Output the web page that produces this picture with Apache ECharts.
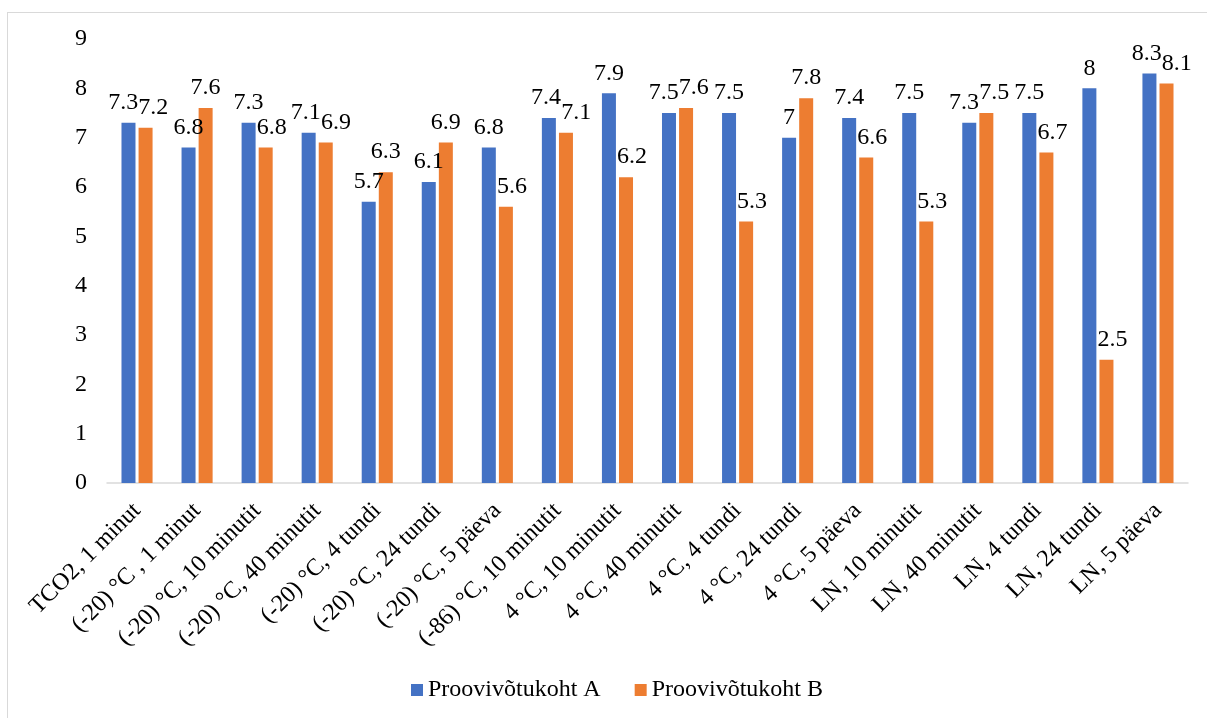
<!DOCTYPE html>
<html>
<head>
<meta charset="utf-8">
<title>Proovivõtukoht A / B</title>
<script src="https://cdn.jsdelivr.net/npm/echarts@6/dist/echarts.min.js"></script>
<style>
  html, body { margin: 0; padding: 0; background: #fff; overflow: hidden; }
  #frame { position: absolute; left: 7px; top: 12px; width: 1220px; height: 720px; border: 1px solid #d9d9d9; }
  #chart { position: absolute; left: 0; top: 0; width: 1207px; height: 718px; }
</style>
</head>
<body>
<div id="frame"></div>
<div id="chart"></div>
<script>
// kategooriad
const categories = [
  'TCO2, 1 minut',
  '(-20) °C , 1 minut',
  '(-20) °C, 10 minutit',
  '(-20) °C, 40 minutit',
  '(-20) °C, 4 tundi',
  '(-20) °C, 24 tundi',
  '(-20) °C, 5 päeva',
  '(-86) °C, 10 minutit',
  '4 °C, 10 minutit',
  '4 °C, 40 minutit',
  '4 °C, 4 tundi',
  '4 °C, 24 tundi',
  '4 °C, 5 päeva',
  'LN, 10 minutit',
  'LN, 40 minutit',
  'LN, 4 tundi',
  'LN, 24 tundi',
  'LN, 5 päeva'
]

// väärtused
const siteA = [7.3, 6.8, 7.3, 7.1, 5.7, 6.1, 6.8, 7.4, 7.9, 7.5, 7.5, 7, 7.4, 7.5, 7.3, 7.5, 8, 8.3]
const siteB = [7.2, 7.6, 6.8, 6.9, 6.3, 6.9, 5.6, 7.1, 6.2, 7.6, 5.3, 7.8, 6.6, 5.3, 7.5, 6.7, 2.5, 8.1]

const seriesNames = ['Proovivõtukoht A', 'Proovivõtukoht B']
const yTicks = { min: 0, max: 9, interval: 1 }

const font = '"Liberation Serif", "Times New Roman", serif'
const FS = 24
const BAR_W = 14
const BAR_GAP = 3
const LBL_DIST = 8

// umbkaudne sildi laius (Times: numbrid 0.5em, punkt 0.25em)
const textW = v => String(v).split('').reduce((s, c) => s + (c === '.' ? 0.25 : 0.5), 0) * FS

// Exceli moodi siltide nihutamine, et A ja B sildid ei kattuks
function labelShift (i, unit) {
  const wA = textW(siteA[i])
  const wB = textW(siteB[i])
  const aTop = -siteA[i] * unit
  const bTop = -siteB[i] * unit
  const cxB = BAR_W + BAR_GAP
  let dxA = 0
  let dxB = 0
  // A tulp lõikab B silti -> B silt paremale
  const aBarRight = BAR_W / 2
  const bLabelLeft = cxB - wB / 2
  if (aTop < bTop - LBL_DIST && aBarRight > bLabelLeft) {
    dxB = aBarRight + 1 - bLabelLeft
  }
  // sildid kattuvad -> lükka lahku
  const ov = wA / 2 - (cxB + dxB - wB / 2)
  if (ov > 0 && Math.abs(aTop - bTop) < FS * 0.7) {
    dxA -= ov * 0.4
    dxB += ov * 0.6
  }
  return [dxA, dxB]
}

const chart = echarts.init(document.getElementById('chart'))

function makeLayout (seriesIdx) {
  return function (params) {
    const i = params.dataIndex
    const val = seriesIdx === 0 ? siteA[i] : siteB[i]
    const unit = params.rect.height / val
    return { dx: labelShift(i, unit)[seriesIdx] }
  }
}

const labelStyle = {
  show: true,
  position: 'top',
  distance: LBL_DIST,
  color: '#000',
  fontFamily: font,
  fontSize: FS
}

chart.setOption({
  animation: false,
  textStyle: { fontFamily: font },
  grid: { left: 107, right: 19, top: 39, bottom: 235, containLabel: false },
  legend: {
    data: seriesNames,
    bottom: 11,
    left: 406,
    itemWidth: 12,
    itemHeight: 12,
    itemGap: 34,
    icon: 'rect',
    textStyle: { fontFamily: font, fontSize: FS, color: '#000' }
  },
  xAxis: {
    type: 'category',
    data: categories,
    axisLine: { lineStyle: { color: '#d9d9d9', width: 1.5 } },
    axisTick: { show: false },
    axisLabel: {
      interval: 0,
      rotate: 45,
      margin: 24,
      color: '#000',
      fontFamily: font,
      fontSize: FS
    }
  },
  yAxis: {
    type: 'value',
    min: yTicks.min,
    max: yTicks.max,
    interval: yTicks.interval,
    splitLine: { show: false },
    axisLine: { show: false },
    axisTick: { show: false },
    axisLabel: { color: '#000', fontFamily: font, fontSize: FS, margin: 20 }
  },
  series: [
    {
      name: seriesNames[0],
      type: 'bar',
      data: siteA,
      barWidth: BAR_W,
      barGap: '22%',
      itemStyle: { color: '#4472c4' },
      label: labelStyle,
      labelLayout: makeLayout(0)
    },
    {
      name: seriesNames[1],
      type: 'bar',
      data: siteB,
      barWidth: BAR_W,
      barGap: '22%',
      itemStyle: { color: '#ed7d31' },
      label: labelStyle,
      labelLayout: makeLayout(1)
    }
  ]
})
</script>
</body>
</html>
